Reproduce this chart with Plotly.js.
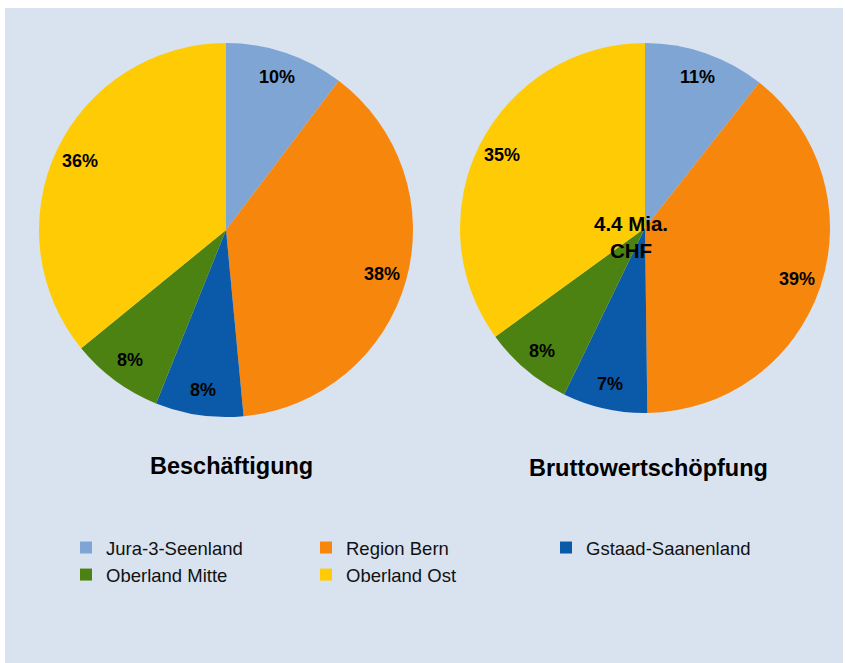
<!DOCTYPE html>
<html><head><meta charset="utf-8">
<script src="https://cdn.plot.ly/plotly-3.0.1.min.js"></script>
<style>html,body{margin:0;padding:0;background:#fff}#chart{width:845px;height:663px}</style>
</head><body><div id="chart"></div>
<script>
const regions = ['Jura-3-Seenland', 'Region Bern', 'Gstaad-Saanenland', 'Oberland Mitte', 'Oberland Ost'];
const beschaeftigung = [10.3, 38.2, 7.6, 8.0, 35.9];
const wertschoepfung = [10.6, 39.2, 7.4, 7.8, 35.0];
const colors = ['#7ea5d4', '#f7860d', '#0b5aa9', '#4b8212', '#ffcb05'];
const pieTitles = ['Beschäftigung', 'Bruttowertschöpfung'];
const centerLabel = '4.4 Mia.<br>CHF';

const W = 845, H = 663;
const px = v => v / W;
const py = v => 1 - v / H;
const FONT = 'Liberation Sans, Arial, sans-serif';

const pies = [
  {values: beschaeftigung, cx: 226, cy: 230, r: 187, showlegend: true},
  {values: wertschoepfung, cx: 645, cy: 228, r: 185, showlegend: false}
];

const data = pies.map(p => ({
  type: 'pie',
  labels: regions,
  values: p.values,
  sort: false,
  direction: 'clockwise',
  rotation: 0,
  marker: {colors: colors, line: {width: 0}},
  textinfo: 'none',
  hoverinfo: 'label+percent',
  showlegend: p.showlegend,
  domain: {x: [px(p.cx - p.r), px(p.cx + p.r)], y: [py(p.cy + p.r), py(p.cy - p.r)]}
}));

// percentage labels placed near the outer end of each slice (computed from the values)
const labelAnnotations = [];
pies.forEach(p => {
  const total = p.values.reduce((a, b) => a + b, 0);
  let cum = 0;
  p.values.forEach(v => {
    const mid = (cum + v / 2) / total * 2 * Math.PI;
    cum += v;
    const rr = 0.865 * p.r;
    labelAnnotations.push({
      text: Math.round(v / total * 100) + '%',
      x: px(p.cx + rr * Math.sin(mid)), y: py(p.cy - rr * Math.cos(mid)),
      xref: 'paper', yref: 'paper', showarrow: false,
      xanchor: 'center', yanchor: 'middle',
      font: {family: FONT, size: 18, color: '#000', weight: 'bold'}
    });
  });
});

const titleFont = {family: FONT, size: 23.5, color: '#000', weight: 'bold'};

const layout = {
  width: W, height: H,
  margin: {l: 0, r: 0, t: 0, b: 0},
  paper_bgcolor: '#ffffff',
  showlegend: true,
  legend: {
    orientation: 'h',
    x: px(66), y: py(529), xanchor: 'left', yanchor: 'top',
    entrywidth: 195, entrywidthmode: 'pixels',
    font: {family: FONT, size: 18.5, color: '#111'},
    bgcolor: 'rgba(0,0,0,0)'
  },
  shapes: [{
    type: 'rect', xref: 'paper', yref: 'paper', layer: 'below',
    x0: px(5), x1: px(843), y0: py(663), y1: py(8),
    fillcolor: '#d9e3ef', line: {width: 0}
  }],
  annotations: labelAnnotations.concat([
    {text: pieTitles[0], x: px(231), y: py(466), xref: 'paper', yref: 'paper', showarrow: false, font: titleFont, xanchor: 'center', yanchor: 'middle'},
    {text: pieTitles[1], x: px(648), y: py(468), xref: 'paper', yref: 'paper', showarrow: false, font: titleFont, xanchor: 'center', yanchor: 'middle'},
    {text: centerLabel, x: px(631), y: py(237), xref: 'paper', yref: 'paper', showarrow: false, font: {family: FONT, size: 20.5, color: '#000', weight: 'bold'}, xanchor: 'center', yanchor: 'middle'}
  ])
};

Plotly.newPlot('chart', data, layout, {displayModeBar: false, staticPlot: true});
</script>
</body></html>
